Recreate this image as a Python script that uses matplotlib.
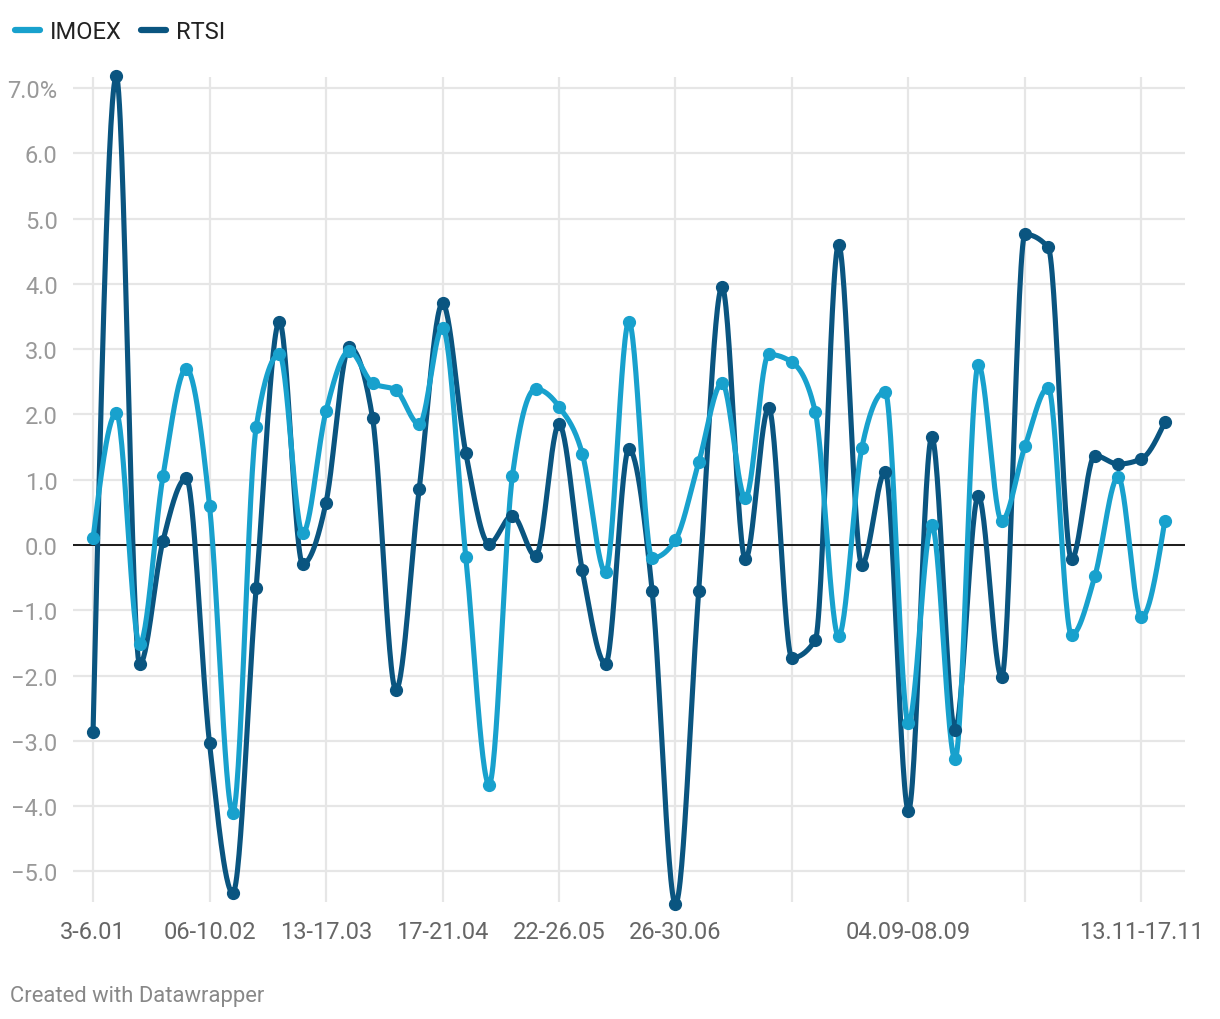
import numpy as np
import matplotlib
matplotlib.use("Agg")
import matplotlib.pyplot as plt
from matplotlib.lines import Line2D

plt.rcParams['font.family'] = ['Roboto', 'DejaVu Sans']

# weekly change, %
imoex = [0.10, 2.02, -1.52, 1.05, 2.70, 0.60, -4.10, 1.80, 2.92, 0.18,
         2.05, 2.97, 2.48, 2.37, 1.85, 3.33, -0.18, -3.67, 1.06, 2.39,
         2.12, 1.40, -0.42, 3.42, -0.20, 0.08, 1.27, 2.48, 0.72, 2.92,
         2.80, 2.04, -1.40, 1.49, 2.35, -2.73, 0.31, -3.28, 2.76, 0.37,
         1.51, 2.41, -1.38, -0.48, 1.04, -1.11, 0.36]
rtsi = [-2.87, 7.18, -1.83, 0.06, 1.02, -3.04, -5.33, -0.66, 3.42, -0.29,
        0.65, 3.03, 1.94, -2.22, 0.86, 3.70, 1.41, 0.02, 0.45, -0.17,
        1.85, -0.39, -1.82, 1.47, -0.71, -5.50, -0.70, 3.95, -0.22, 2.10,
        -1.73, -1.46, 4.60, -0.30, 1.12, -4.07, 1.65, -2.83, 0.75, -2.03,
        4.76, 4.56, -0.22, 1.37, 1.24, 1.32, 1.88]

tick_pos = [0, 5, 10, 15, 20, 25, 30, 35, 40, 45]
tick_labels = ['3-6.01', '06-10.02', '13-17.03', '17-21.04', '22-26.05',
               '26-30.06', '', '04.09-08.09', '', '13.11-17.11']
y_ticks = [-5, -4, -3, -2, -1, 0, 1, 2, 3, 4, 5, 6, 7]

c_imoex = '#18a1cd'
c_rtsi = '#0a5580'


def monotone_x(x, y, n=30):
    # same idea as d3.curveMonotoneX
    x = np.asarray(x, float)
    y = np.asarray(y, float)
    h = np.diff(x)
    s = np.diff(y) / h
    t = np.zeros_like(y)
    for i in range(1, len(y) - 1):
        s0, s1 = s[i - 1], s[i]
        p = (s0 * h[i] + s1 * h[i - 1]) / (h[i - 1] + h[i])
        t[i] = (np.sign(s0) + np.sign(s1)) * min(abs(s0), abs(s1), 0.5 * abs(p))
    t[0] = (3 * s[0] - t[1]) / 2
    t[-1] = (3 * s[-1] - t[-2]) / 2
    xs, ys = [], []
    for i in range(len(x) - 1):
        u = np.linspace(0, 1, n, endpoint=False)
        h00 = 2 * u**3 - 3 * u**2 + 1
        h10 = u**3 - 2 * u**2 + u
        h01 = -2 * u**3 + 3 * u**2
        h11 = u**3 - u**2
        xs.append(x[i] + u * h[i])
        ys.append(h00 * y[i] + h10 * h[i] * t[i] + h01 * y[i + 1] + h11 * h[i] * t[i + 1])
    xs.append([x[-1]])
    ys.append([y[-1]])
    return np.concatenate(xs), np.concatenate(ys)


fig = plt.figure(figsize=(12.2, 10.2), dpi=100)
ax = fig.add_axes([73 / 1220, 1 - 903 / 1020, (1185 - 73) / 1220, (903 - 78) / 1020])

x = np.arange(len(imoex))
for data, col in [(rtsi, c_rtsi), (imoex, c_imoex)]:
    sx, sy = monotone_x(x, data)
    ax.plot(sx, sy, color=col, lw=3.7, solid_capstyle='round', zorder=3, clip_on=False)
for data, col in [(rtsi, c_rtsi), (imoex, c_imoex)]:
    ax.plot(x, data, 'o', color=col, ms=8.5, zorder=4, clip_on=False)

ax.axhline(0, color='#1a1a1a', lw=1.4, zorder=2)

ax.set_xlim(-0.86, 46.87)
ax.set_ylim(-5.47, 7.17)
ax.set_yticks(y_ticks)
ylabs = ['%.1f' % v if v >= 0 else '\u2212%.1f' % abs(v) for v in y_ticks]
ylabs[-1] = '7.0%'
ax.set_yticklabels(ylabs)
ax.set_xticks(tick_pos)
ax.set_xticklabels(tick_labels)

ax.grid(True, color='#e6e6e6', lw=1.6, zorder=0)
ax.set_axisbelow(True)
for sp in ax.spines.values():
    sp.set_visible(False)
ax.tick_params(axis='both', length=0, labelsize=17)
ax.tick_params(axis='y', colors='#999999', pad=11)
ax.tick_params(axis='x', colors='#666666', pad=13)

# legend
handles = [Line2D([0], [0], color=c_imoex, lw=4.5, solid_capstyle='round'),
           Line2D([0], [0], color=c_rtsi, lw=4.5, solid_capstyle='round')]
fig.legend(handles, ['IMOEX', 'RTSI'], loc='upper left', bbox_to_anchor=(-0.005, 1.0),
           ncol=2, frameon=False, fontsize=17, handlelength=1.05, handletextpad=0.4,
           columnspacing=0.85, labelcolor='#222222')

fig.text(10 / 1220, 1 - 997 / 1020, 'Created with Datawrapper', color='#888888',
         fontsize=15.8, va='center', ha='left')

fig.savefig('out.png', dpi=100)
